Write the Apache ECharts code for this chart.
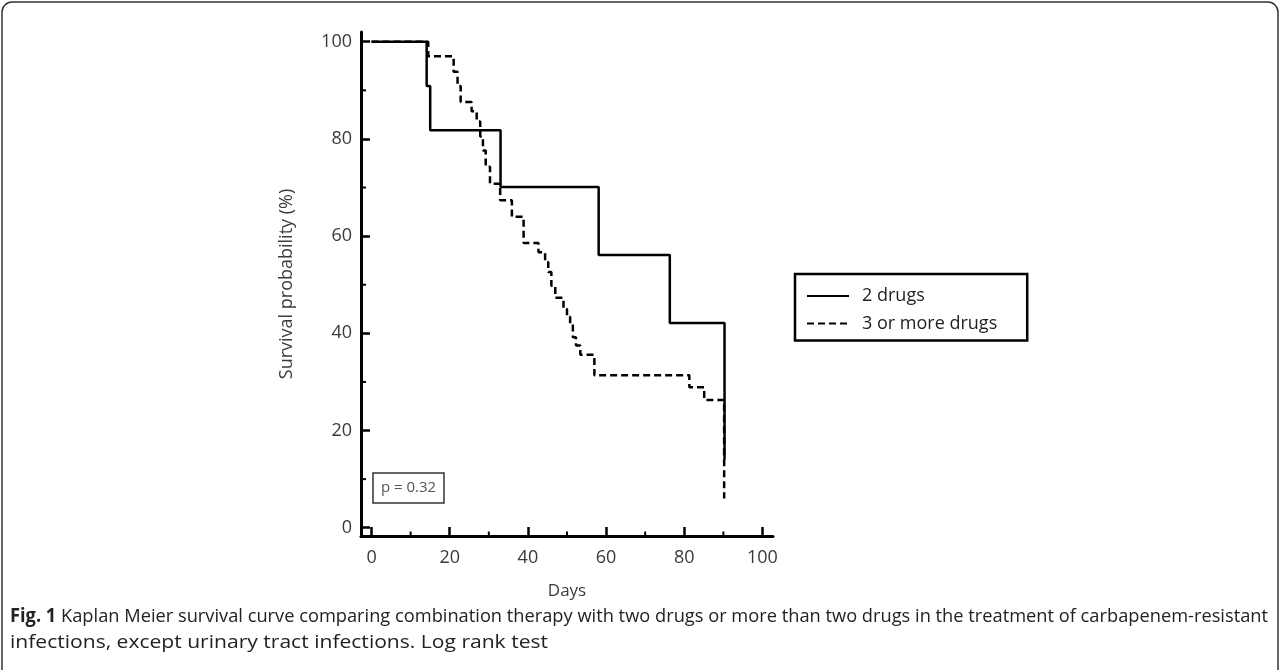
<!DOCTYPE html>
<html>
<head>
<meta charset="utf-8">
<script src="https://cdn.jsdelivr.net/npm/echarts@6/dist/echarts.min.js"></script>
<style>
    html, body { margin: 0; padding: 0; background: #fff; }
    #chart { width: 1281px; height: 670px; }
</style>
</head>
<body>
<div id="chart"></div>
<script>
// 生存曲线数据（天数、生存率%）
var twoDrugDays = [0, 14.1, 15.0, 33.0, 58.1, 76.3, 90.3];
var twoDrugSurv = [100, 90.9, 81.8, 70.1, 56.1, 42.1, 14.0];
var threeDrugDays = [0, 14.5, 21.0, 22.0, 22.8, 25.6, 26.9, 27.8, 28.5, 29.2, 30.3, 32.9, 35.9, 38.9,
    42.7, 44.4, 45.2, 46.0, 47.0, 49.1, 50.0, 50.8, 51.5, 52.3, 53.4, 57.0, 81.3, 85.1, 90.2];
var threeDrugSurv = [100, 97.0, 93.8, 90.9, 87.6, 85.7, 83.6, 80.5, 77.6, 74.3, 70.8, 67.4, 64.0, 58.6,
    56.7, 54.7, 52.6, 49.8, 47.3, 45.0, 43.4, 41.9, 39.2, 37.5, 35.6, 31.4, 28.9, 26.3, 6.0];
var seriesNames = ['2 drugs', '3 or more drugs'];
var majorTicks = [0, 20, 40, 60, 80, 100];
var minorTicks = [10, 30, 50, 70, 90];
var pValueText = 'p = 0.32';
var captionBold = 'Fig. 1';
var captionLine1 = ' Kaplan Meier survival curve comparing combination therapy with two drugs or more than two drugs in the treatment of carbapenem-resistant';
var captionLine2 = 'infections, except urinary tract infections. Log rank test';

var FONT = '"Open Sans", "Noto Sans", sans-serif';

// 图注：第一行两端对齐，第二行自然宽度
var captionSize = 19;
var ctx = document.createElement('canvas').getContext('2d');
ctx.font = 'bold ' + captionSize + 'px ' + FONT;
var boldWidth = ctx.measureText(captionBold).width;
ctx.font = captionSize + 'px ' + FONT;
var line1Scale = 1258 / (boldWidth + ctx.measureText(captionLine1).width);
var line2Scale = 538 / ctx.measureText(captionLine2).width;

function zip(xs, ys) {
    return xs.map(function(x, i) { return [x, ys[i]]; });
}

var xMin = -2.7, xMax = 102.7, yMin = -1.7, yMax = 102;
var labelStyle = { fontSize: 18, color: '#3a3a3a', fontFamily: FONT };

// 次刻度（短刻度线）
function minorTickItem(horizontal) {
    return function(params, api) {
        var p = api.coord([api.value(0), api.value(1)]);
        var shape = horizontal ?
            { x1: p[0], y1: p[1], x2: p[0] + 5, y2: p[1] } :
            { x1: p[0], y1: p[1], x2: p[0], y2: p[1] - 4.5 };
        return { type: 'line', shape: shape, style: { stroke: '#000', lineWidth: 2 } };
    };
}

var chart = echarts.init(document.getElementById('chart'), null, { renderer: 'canvas' });
var option = {
    animation: false,
    backgroundColor: '#fff',
    grid: { left: 361, right: 508, top: 32, bottom: 134, containLabel: false },
    legend: {
        data: seriesNames,
        orient: 'vertical',
        left: 795,
        top: 274,
        itemWidth: 42,
        itemHeight: 18,
        itemGap: 9.5,
        borderColor: '#000',
        borderWidth: 2.5,
        borderRadius: 0,
        padding: [13, 30, 8, 11],
        itemStyle: { opacity: 0, color: 'transparent', borderWidth: 0 },
        textStyle: { fontSize: 18, color: '#222', fontFamily: FONT, padding: [0, 0, 0, 8] }
    },
    xAxis: {
        type: 'value', min: xMin, max: xMax, position: 'bottom',
        name: 'Days', nameLocation: 'middle', nameGap: 47,
        nameTextStyle: { fontSize: 17, color: '#3a3a3a', fontFamily: FONT },
        axisLine: { show: true, onZero: false, lineStyle: { color: '#000', width: 3 } },
        axisTick: { show: true, inside: true, length: 9, customValues: majorTicks, lineStyle: { color: '#000', width: 2.5 } },
        axisLabel: Object.assign({ customValues: majorTicks, margin: 13 }, labelStyle),
        splitLine: { show: false }
    },
    yAxis: {
        type: 'value', min: yMin, max: yMax, position: 'left',
        name: 'Survival probability (%)', nameLocation: 'middle', nameGap: 65,
        nameTextStyle: { fontSize: 18, color: '#3a3a3a', fontFamily: FONT },
        axisLine: { show: true, onZero: false, lineStyle: { color: '#000', width: 3 } },
        axisTick: { show: true, inside: true, length: 9, customValues: majorTicks, lineStyle: { color: '#000', width: 2.5 } },
        axisLabel: Object.assign({ customValues: majorTicks, margin: 9 }, labelStyle),
        splitLine: { show: false }
    },
    series: [{
        name: seriesNames[1],
        type: 'line',
        step: 'end',
        symbol: 'none',
        z: 2,
        data: zip(threeDrugDays, threeDrugSurv),
        lineStyle: { color: '#000', width: 2.5, type: [7, 4], cap: 'butt' },
        itemStyle: { color: '#000' }
    }, {
        name: seriesNames[0],
        type: 'line',
        step: 'end',
        symbol: 'none',
        z: 3,
        data: zip(twoDrugDays, twoDrugSurv),
        lineStyle: { color: '#000', width: 2.5, type: 'solid' },
        itemStyle: { color: '#000' }
    }, {
        type: 'custom',
        silent: true,
        clip: false,
        z: 4,
        data: minorTicks.map(function(v) { return [v, yMin]; }),
        renderItem: minorTickItem(false)
    }, {
        type: 'custom',
        silent: true,
        clip: false,
        z: 4,
        data: minorTicks.map(function(v) { return [xMin, v]; }),
        renderItem: minorTickItem(true)
    }],
    graphic: [{
        // 外框
        type: 'rect',
        shape: { x: 2, y: 2, width: 1276, height: 720, r: 10 },
        style: { fill: 'none', stroke: '#333', lineWidth: 1.5 },
        silent: true
    }, {
        type: 'rect',
        shape: { x: 373, y: 473, width: 71, height: 30 },
        style: { fill: '#fff', stroke: '#333', lineWidth: 1.5 },
        z: 10
    }, {
        type: 'text',
        x: 408.5, y: 488,
        style: { text: pValueText, fontSize: 15, fill: '#555', fontFamily: FONT, align: 'center', verticalAlign: 'middle' },
        z: 11
    }, {
        type: 'text',
        x: 10, y: 617,
        scaleX: line1Scale,
        style: {
            text: '{b|' + captionBold + '}' + captionLine1,
            fontSize: captionSize, fill: '#222', fontFamily: FONT, verticalAlign: 'middle',
            rich: { b: { fontWeight: 'bold', fontSize: captionSize, fontFamily: FONT, fill: '#222' } }
        }
    }, {
        type: 'text',
        x: 10, y: 643,
        scaleX: line2Scale,
        style: { text: captionLine2, fontSize: captionSize, fill: '#222', fontFamily: FONT, verticalAlign: 'middle' }
    }]
};
chart.setOption(option);
</script>
</body>
</html>
